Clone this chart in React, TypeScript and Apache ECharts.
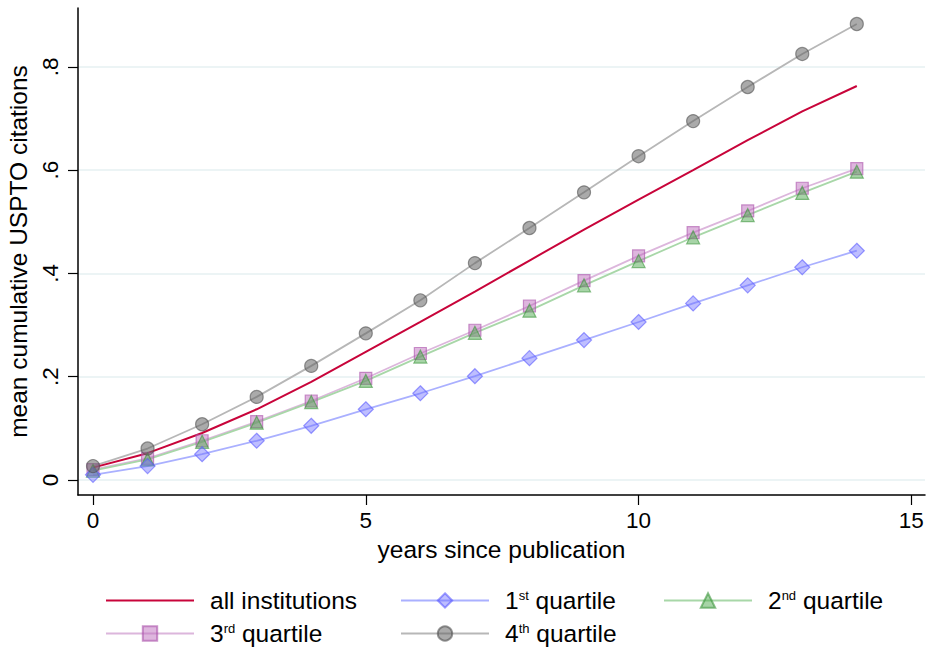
import { useEffect, useRef } from 'react'
import * as echarts from 'echarts'

// years since publication
const years = [0, 1, 2, 3, 4, 5, 6, 7, 8, 9, 10, 11, 12, 13, 14]

// mean cumulative USPTO citations
const allInstitutions = [0.024, 0.052, 0.091, 0.137, 0.19, 0.248, 0.306, 0.365, 0.425, 0.485, 0.543, 0.6, 0.658, 0.714, 0.763]
const quartile1 = [0.01, 0.027, 0.05, 0.076, 0.105, 0.137, 0.168, 0.201, 0.236, 0.271, 0.306, 0.342, 0.377, 0.412, 0.444]
const quartile2 = [0.018, 0.04, 0.074, 0.111, 0.151, 0.192, 0.239, 0.285, 0.328, 0.377, 0.424, 0.47, 0.513, 0.556, 0.597]
const quartile3 = [0.02, 0.042, 0.076, 0.113, 0.153, 0.197, 0.245, 0.29, 0.337, 0.386, 0.434, 0.479, 0.521, 0.565, 0.603]
const quartile4 = [0.027, 0.061, 0.108, 0.161, 0.221, 0.284, 0.348, 0.42, 0.488, 0.557, 0.627, 0.695, 0.761, 0.825, 0.883]

// axis ticks
const xTicks = [0, 5, 10, 15]
const yTicks = [0, 0.2, 0.4, 0.6, 0.8]
const yTickLabels = ['0', '.2', '.4', '.6', '.8']

const FONT = '"Liberation Sans", Arial, sans-serif'

const legendLabels: Record<string, string> = {
  'all institutions': 'all institutions',
  '1st quartile': '1{sup|st} quartile',
  '2nd quartile': '2{sup|nd} quartile',
  '3rd quartile': '3{sup|rd} quartile',
  '4th quartile': '4{sup|th} quartile'
}

const pairs = (vals: number[]) => years.map((y, i) => [y, vals[i]])

function makeLegend(left: number, names: any[]) {
  return {
    orient: 'vertical',
    left,
    top: 588,
    padding: 0,
    itemGap: 8,
    itemWidth: 88,
    itemHeight: 18,
    data: names,
    formatter: (name: string) => legendLabels[name],
    textStyle: {
      fontFamily: FONT,
      fontSize: 24.5,
      color: '#000',
      lineHeight: 24,
      padding: [0, 0, 0, 11],
      rich: {
        sup: { fontFamily: FONT, fontSize: 13, verticalAlign: 'top', lineHeight: 24, padding: [0, 0, 10, 0] }
      }
    }
  }
}

function App() {
  const chartRef = useRef<HTMLDivElement>(null)

  useEffect(() => {
    document.body.style.margin = '0'
    const chart = echarts.init(chartRef.current, null, { renderer: 'svg' })

    const option: any = {
      animation: false,
      backgroundColor: '#fff',
      grid: { left: 78, right: 3, top: 8, bottom: 154, containLabel: false, outerBoundsMode: 'none' },
      xAxis: {
        type: 'value',
        min: -0.275,
        max: 15.25,
        name: 'years since publication',
        nameLocation: 'middle',
        nameGap: 39,
        nameTextStyle: { fontFamily: FONT, fontSize: 24.5, color: '#000' },
        axisLine: { show: true, onZero: false, lineStyle: { color: '#000', width: 1.5 } },
        axisTick: { show: true, length: 10, customValues: xTicks, lineStyle: { color: '#000', width: 1.2 } },
        axisLabel: { customValues: xTicks, margin: 14, fontFamily: FONT, fontSize: 22.5, color: '#000' },
        splitLine: { show: false }
      },
      yAxis: {
        type: 'value',
        min: -0.029,
        max: 0.914,
        name: 'mean cumulative USPTO citations',
        nameLocation: 'middle',
        nameRotate: 90,
        nameGap: 38,
        nameTextStyle: { fontFamily: FONT, fontSize: 24.5, color: '#000' },
        axisLine: { show: true, onZero: false, lineStyle: { color: '#000', width: 1.5 } },
        axisTick: { show: true, length: 10, customValues: yTicks, lineStyle: { color: '#000', width: 1.2 } },
        axisLabel: {
          customValues: yTicks,
          rotate: 90,
          margin: 16,
          fontFamily: FONT,
          fontSize: 22.5,
          color: '#000',
          formatter: (v: number) => {
            const i = yTicks.findIndex((t) => Math.abs(t - v) < 1e-6)
            return i >= 0 ? yTickLabels[i] : ''
          }
        },
        splitLine: { show: true, lineStyle: { color: '#e6f0f2', width: 1.5 } }
      },
      legend: [
        makeLegend(105, [{ name: 'all institutions', itemStyle: { opacity: 0 } }, '3rd quartile']),
        makeLegend(400, ['1st quartile', '4th quartile']),
        makeLegend(663, ['2nd quartile'])
      ],
      series: [
        {
          name: '3rd quartile',
          type: 'line',
          data: pairs(quartile3),
          symbol: 'rect',
          symbolSize: 12,
          lineStyle: { color: '#dcb6dc', width: 1.8 },
          itemStyle: { color: 'rgba(190,110,190,0.5)', borderColor: 'rgba(170,80,170,0.6)', borderWidth: 1.2 }
        },
        {
          name: '2nd quartile',
          type: 'line',
          data: pairs(quartile2),
          symbol: 'triangle',
          symbolSize: 13,
          lineStyle: { color: '#a8d7a8', width: 1.8 },
          itemStyle: { color: 'rgba(80,170,80,0.5)', borderColor: 'rgba(60,150,60,0.6)', borderWidth: 1.2 }
        },
        {
          name: '1st quartile',
          type: 'line',
          data: pairs(quartile1),
          symbol: 'diamond',
          symbolSize: 15,
          lineStyle: { color: '#aab0ff', width: 1.8 },
          itemStyle: { color: 'rgba(110,110,255,0.45)', borderColor: 'rgba(90,90,255,0.6)', borderWidth: 1.2 }
        },
        {
          name: '4th quartile',
          type: 'line',
          data: pairs(quartile4),
          symbol: 'circle',
          symbolSize: 13,
          lineStyle: { color: '#b7b7b7', width: 1.8 },
          itemStyle: { color: 'rgba(100,100,100,0.55)', borderColor: 'rgba(80,80,80,0.6)', borderWidth: 1.2 }
        },
        {
          name: 'all institutions',
          type: 'line',
          data: pairs(allInstitutions),
          symbol: 'none',
          lineStyle: { color: '#c8043a', width: 2 },
          itemStyle: { color: '#c8043a' }
        }
      ]
    }

    chart.setOption(option)
    return () => {
      chart.dispose()
    }
  }, [])

  return <div ref={chartRef} style={{ width: '928px', height: '649px' }}></div>
}

export default App
